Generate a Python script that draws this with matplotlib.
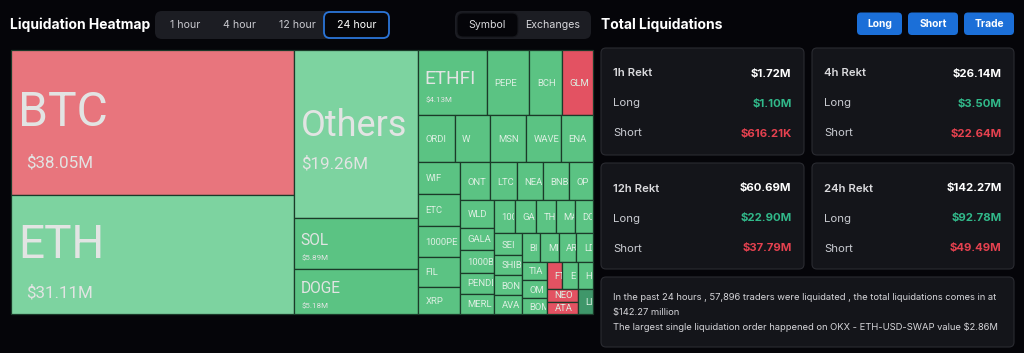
import math
import matplotlib
matplotlib.use("Agg")
import matplotlib.pyplot as plt
from matplotlib.patches import Rectangle, FancyBboxPatch
from matplotlib.transforms import Bbox

# ---------------- data ----------------
coins = ['BTC', 'ETH', 'Others', 'SOL', 'DOGE', 'ETHFI', 'PEPE', 'BCH', 'GLM',
         'ORDI', 'W', 'MSN', 'WAVES', 'ENA',
         'WIF', 'ETC', '1000PEPE', 'FIL', 'XRP',
         'ONT', 'LTC', 'NEAR', 'BNB', 'OP',
         'WLD', 'GALA', '1000BONK', 'PENDLE', 'MERL',
         '1000SATS', 'GAS', 'THETA', 'MANTA', 'DOT',
         'SEI', 'SHIB', 'BONK', 'AVAX',
         'BIGTIME', 'MINA', 'AR', 'LDO',
         'TIA', 'OM', 'BOME',
         'FTM', 'ENS', 'HIGH', 'NEO', 'ATA', 'LISTA']
liq_musd = [38.05, 31.11, 19.26, 5.89, 5.18, 4.13, 2.54, 1.93, 1.85,
            1.61, 1.56, 1.55, 1.52, 1.40,
            1.25, 1.24, 1.23, 1.16, 1.08,
            1.07, 0.96, 0.93, 0.92, 0.86,
            0.85, 0.71, 0.70, 0.66, 0.65,
            0.64, 0.63, 0.60, 0.58, 0.55,
            0.55, 0.52, 0.51, 0.49,
            0.49, 0.48, 0.47, 0.43,
            0.43, 0.42, 0.38,
            0.38, 0.38, 0.37, 0.37, 0.36, 0.36]
dominant = ['S', 'L', 'L', 'L', 'L', 'L', 'L', 'L', 'S',
            'L', 'L', 'L', 'L', 'L',
            'L', 'L', 'L', 'L', 'L',
            'L', 'L', 'L', 'L', 'L',
            'L', 'L', 'L', 'L', 'L',
            'L', 'L', 'L', 'L', 'L',
            'L', 'L', 'L', 'L',
            'L', 'L', 'L', 'L',
            'L', 'L', 'L',
            'S', 'L', 'L', 'S', 'S', 'N']

periods = ['1h', '4h', '12h', '24h']
rekt_total = [1.72, 26.14, 60.69, 142.27]
rekt_long = [1.10, 3.50, 22.90, 92.78]
rekt_short = [0.61621, 22.64, 37.79, 49.49]

time_tabs = ['1 hour', '4 hour', '12 hour', '24 hour']
group_tabs = ['Symbol', 'Exchanges']
buttons = ['Long', 'Short', 'Trade']
traders = 57896
top_exchange = 'OKX'
top_pair = 'ETH-USD-SWAP'
top_order = 2.86

# ---------------- style ----------------
BG = '#050509'
PANEL = '#1c1d23'
CARD = '#14151a'
CARD_EDGE = '#2a2b31'
BLUE = '#1b6fd8'
GREEN_TXT = '#31b98a'
RED_TXT = '#e5414f'
CELL_EDGE = '#1b3a29'
COLORS = {('L', True): '#7dd3a0', ('S', True): '#e8757d',
          ('L', False): '#5bc383', ('S', False): '#e35262',
          ('N', False): '#3f976a', ('N', True): '#3f976a'}
NAME_PX = {'BTC': 48, 'ETH': 46, 'Others': 36, 'ETHFI': 19, 'SOL': 15.5, 'DOGE': 15.5}
VALUE_INDENT = {'BTC': 15, 'ETH': 15}
UI = ['Inter', 'DejaVu Sans']
TMF = ['Roboto', 'DejaVu Sans']
PT = 0.72  # px -> pt at 100 dpi


def money(v):
    return f"${v*1000:.2f}K" if v < 1 else f"${v:.2f}M"


# ---------------- squarified treemap (ECharts style) ----------------
def squarify(vals, rect, ratio=0.5 * (1 + math.sqrt(5))):
    x, y, w, h = rect
    tot = sum(vals)
    areas = [v * w * h / tot for v in vals]
    order = sorted(range(len(vals)), key=lambda i: -vals[i])
    out = [None] * len(vals)
    r = {'x': x, 'y': y, 'w': w, 'h': h}

    def worst(row, row_area, fixed):
        amax = max(areas[k] for k in row)
        amin = min(areas[k] for k in row)
        sq = row_area * row_area
        f = fixed * fixed * ratio
        return max(f * amax / sq, sq / (f * amin)) if sq else float('inf')

    def position(row, row_area, fixed, flush):
        horiz = fixed == r['w']
        other = row_area / fixed if fixed else 0
        span = r['h'] if horiz else r['w']
        if flush or other > span:
            other = span
        last = r['x'] if horiz else r['y']
        end = last + (r['w'] if horiz else r['h'])
        for j, k in enumerate(row):
            step = areas[k] / other if other else 0
            remain = end - last
            mod = remain if (j == len(row) - 1 or remain < step) else step
            if horiz:
                out[k] = (last, r['y'], mod, other)
            else:
                out[k] = (r['x'], last, other, mod)
            last += mod
        if horiz:
            r['y'] += other
            r['h'] -= other
        else:
            r['x'] += other
            r['w'] -= other

    row, row_area, best = [], 0.0, float('inf')
    fixed = min(w, h)
    i = 0
    while i < len(order):
        k = order[i]
        row.append(k)
        row_area += areas[k]
        score = worst(row, row_area, fixed)
        if score <= best:
            i += 1
            best = score
        else:
            row.pop()
            row_area -= areas[k]
            position(row, row_area, fixed, False)
            fixed = min(r['w'], r['h'])
            row, row_area, best = [], 0.0, float('inf')
    if row:
        position(row, row_area, fixed, True)
    return out


fig = plt.figure(figsize=(10.24, 3.53), dpi=100)
fig.patch.set_facecolor(BG)
ax = fig.add_axes([0, 0, 1, 1])
ax.set_xlim(0, 1024)
ax.set_ylim(353, 0)
ax.axis('off')
ax.set_facecolor(BG)
renderer = fig.canvas.get_renderer()


def rbox(x0, y0, x1, y1, fc, ec='none', lw=0, r=5, z=1):
    p = FancyBboxPatch((x0, y0), x1 - x0, y1 - y0,
                       boxstyle=f"round,pad=0,rounding_size={r}",
                       fc=fc, ec=ec, lw=lw, zorder=z)
    ax.add_patch(p)
    return p


def display_box(x0, y0, x1, y1):
    pts = ax.transData.transform([(x0, y0), (x1, y1)])
    return Bbox.from_extents(min(pts[:, 0]), min(pts[:, 1]),
                             max(pts[:, 0]), max(pts[:, 1]))


def fit_label(t, right_px, slack=4.0):
    """Truncate like the web treemap: drop characters that start outside the cell."""
    s = t.get_text()
    while len(s) > 1 and t.get_window_extent(renderer).x1 > right_px + slack:
        s = s[:-1]
        t.set_text(s)


# ---------------- header left ----------------
ax.text(10, 25, 'Liquidation Heatmap', fontsize=10, fontweight='bold',
        color='white', va='center', ha='left', family=UI)
rbox(155, 11, 390, 39, PANEL, r=7)
tab_x = [185, 239, 297, 357]
rbox(324, 12, 389, 38, BG, ec='#2a74d8', lw=1.3, r=6, z=2)
for tx, lab in zip(tab_x, time_tabs):
    ax.text(tx, 25.5, lab, fontsize=7.6, color='white' if lab == '24 hour' else '#c9c9cf',
            ha='center', va='center', family=UI, zorder=3)
rbox(455, 11, 591, 39, PANEL, r=7)
rbox(457, 13, 518, 37, BG, ec='#16171c', lw=0.8, r=6, z=2)
for tx, lab in zip([487, 553], group_tabs):
    ax.text(tx, 25.5, lab, fontsize=7.6, color='#d8d8dc', ha='center', va='center',
            family=UI, zorder=3)

# ---------------- treemap ----------------
TM = (11, 50, 581.7, 264.3)
cells = squarify(liq_musd, TM)
for name, v, side, (x, y, w, h) in zip(coins, liq_musd, dominant, cells):
    col = COLORS[(side, v >= 10)]
    ax.add_patch(Rectangle((x, y), w, h, facecolor=col, edgecolor=CELL_EDGE,
                           lw=0.9, zorder=2))
    clip = display_box(x + 0.8, y + 0.8, x + w - 0.8, y + h - 0.8)
    texts = []
    if name in NAME_PX:
        fs = NAME_PX[name]
        vfs = 17 if v >= 10 else 8
        base = y + h / 2 + 0.07 * fs
        texts.append(ax.text(x + 7, base, name, fontsize=fs * PT, color='#e2e4e3',
                             va='baseline', ha='left', family=TMF, zorder=3))
        texts.append(ax.text(x + VALUE_INDENT.get(name, 7.5), base + 0.8 * fs + 3,
                             money(v), fontsize=vfs * PT, color='#e2e4e3',
                             va='baseline', ha='left', family=TMF, zorder=3))
    else:
        texts.append(ax.text(x + 7.5, y + h / 2 + 3.4, name, fontsize=9.5 * PT,
                             color='#dcefe2', va='baseline', ha='left',
                             family=TMF, zorder=3))
    for t in texts:
        fit_label(t, clip.x1)
        t.set_clip_on(True)
        t.set_clip_box(clip)

# ---------------- right panel ----------------
ax.text(601, 24.5, 'Total Liquidations', fontsize=10, fontweight='bold',
        color='white', va='center', ha='left', family=UI)
for (bx0, bx1), lab in zip([(857, 902), (908, 958), (964, 1014)], buttons):
    rbox(bx0, 12.5, bx1, 35, BLUE, r=4)
    ax.text((bx0 + bx1) / 2, 24, lab, fontsize=7.4, fontweight='bold', color='white',
            ha='center', va='center', family=UI, zorder=3)

card_boxes = [(601, 48, 804, 155), (812, 48, 1014, 155),
              (601, 163, 804, 269), (812, 163, 1014, 269)]
for (x0, y0, x1, y1), p, tot, lo, sh in zip(card_boxes, periods, rekt_total,
                                            rekt_long, rekt_short):
    rbox(x0, y0, x1, y1, CARD, ec=CARD_EDGE, lw=0.8, r=5)
    rows = [(f'{p} Rekt', money(tot), 'white', '#dadadd', 'semibold'),
            ('Long', money(lo), GREEN_TXT, '#c9cbd1', 'normal'),
            ('Short', money(sh), RED_TXT, '#c9cbd1', 'normal')]
    for j, (lab, val, vc, lc, lw_) in enumerate(rows):
        yy = y0 + 25.5 + 30 * j
        ax.text(x0 + 12, yy, lab, fontsize=8.2, color=lc, fontweight=lw_,
                va='center', ha='left', family=UI, zorder=3)
        ax.text(x1 - 12.5, yy, val, fontsize=8.2, color=vc, fontweight='bold',
                va='center', ha='right', family=UI, zorder=3)

rbox(601, 277, 1014, 347, CARD, ec=CARD_EDGE, lw=0.8, r=5)
summary = [f"In the past 24 hours , {traders:,} traders were liquidated , "
           f"the total liquidations comes in at",
           f"${rekt_total[-1]:.2f} million",
           f"The largest single liquidation order happened on {top_exchange} - "
           f"{top_pair} value ${top_order:.2f}M"]
for j, line in enumerate(summary):
    ax.text(613, 297.7 + 14.8 * j, line, fontsize=6.75, color='#d6d6da',
            va='center', ha='left', family=UI, zorder=3)

fig.savefig('out.png', dpi=100, facecolor=BG)
